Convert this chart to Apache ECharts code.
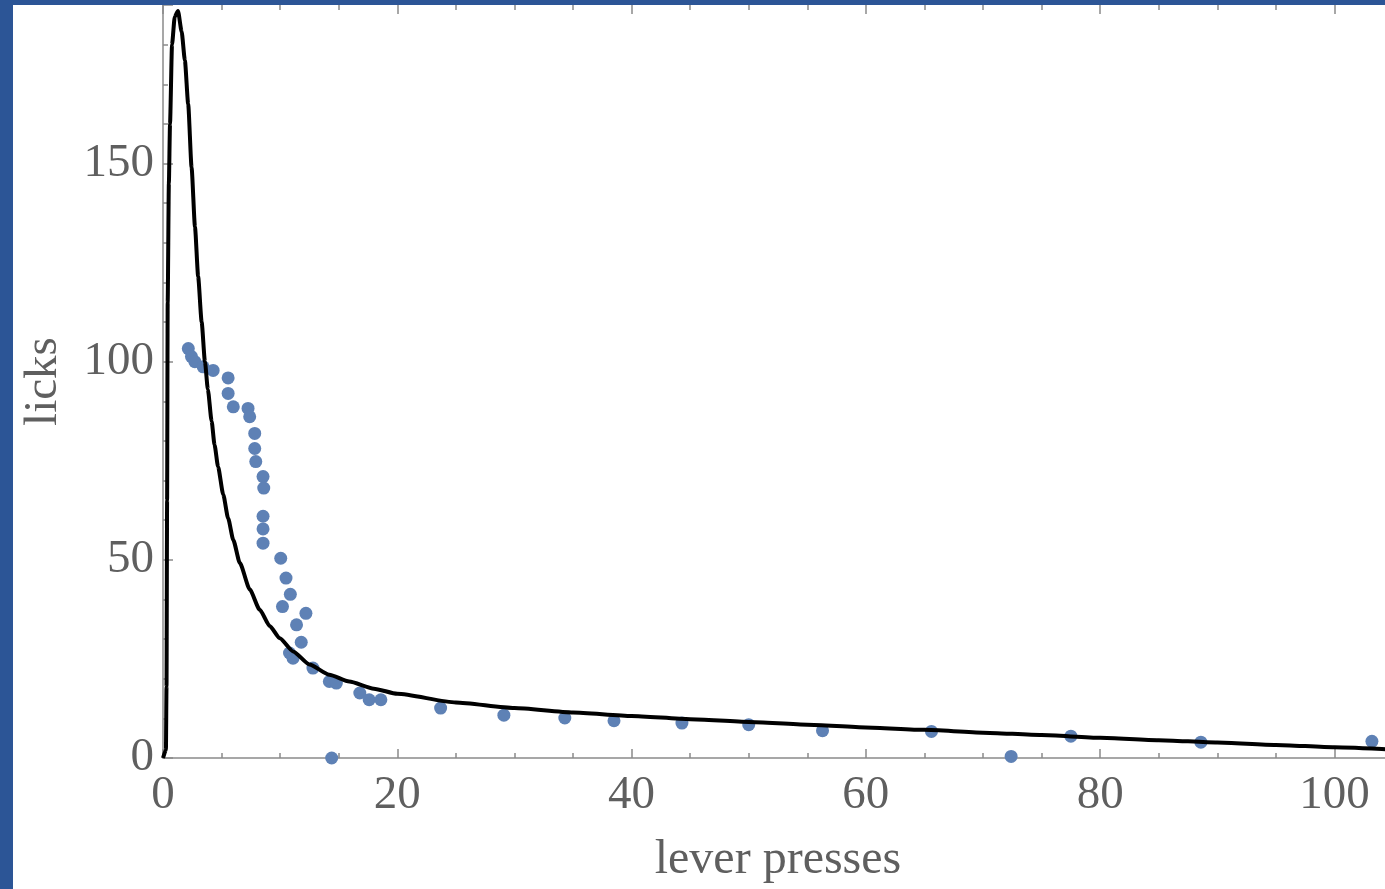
<!DOCTYPE html>
<html>
<head>
<meta charset="utf-8">
<script src="https://cdn.jsdelivr.net/npm/echarts@6/dist/echarts.min.js"></script>
<style>
  html, body { margin: 0; padding: 0; overflow: hidden; background: #ffffff; }
  #chart { position: absolute; left: 0; top: 0; width: 1396px; height: 889px; }
</style>
</head>
<body>
<div id="chart"></div>
<script>
// ---- data ----
const xTitle = 'lever presses';
const yTitle = 'licks';

// model curve (x = lever presses, y = licks)
const curveX = [0, 0.25, 0.3, 0.35, 0.4, 0.5, 0.6, 0.77, 1.0, 1.28, 1.59, 1.87, 2.15, 2.44, 2.73, 3.0, 3.3, 3.58, 3.83, 4.15, 4.4, 4.7, 5.14, 5.56, 6.0, 6.56, 7.41, 8.26, 9.11, 9.97, 11.1, 12.5, 14.2, 15.9, 18, 20, 25, 30, 35, 40, 45, 50, 55, 60, 65, 70, 75, 80, 85, 90, 95, 100, 105];
const curveY = [0, 2, 18, 65, 115, 145, 160, 180, 187, 188.5, 183.3, 176, 165, 149, 134, 121.5, 110, 100, 93, 85, 79, 73.5, 66.5, 60.5, 55, 49.2, 42.5, 37.4, 33.3, 30.2, 26.9, 23.6, 21, 19.3, 17.5, 16.2, 14.0, 12.6, 11.5, 10.6, 9.8, 9.1, 8.4, 7.7, 7.1, 6.4, 5.8, 5.1, 4.5, 3.9, 3.3, 2.7, 2.1];

// observed points
const pointsX = [-0.4, -0.4, 2.16, 2.43, 2.72, 3.43, 4.28, 5.56, 5.56, 6.0, 7.26, 7.4, 7.83, 7.83, 7.92, 8.54, 8.6, 8.54, 8.54, 8.54, 10.05, 10.5, 10.87, 10.2, 12.2, 11.4, 11.8, 10.8, 11.1, 12.8, 14.2, 14.8, 14.4, 16.8, 17.6, 18.6, 23.7, 29.1, 34.3, 38.5, 44.3, 50.0, 56.3, 65.6, 72.4, 77.5, 88.6, 103.2];
const pointsY = [0, 9, 103.3, 101.3, 100, 98.7, 97.8, 95.9, 92, 88.6, 88.2, 86.1, 81.9, 78.1, 74.8, 71, 68.1, 61, 57.8, 54.2, 50.4, 45.4, 41.3, 38.2, 36.5, 33.6, 29.2, 26.5, 25.2, 22.7, 19.3, 18.9, 0, 16.4, 14.7, 14.7, 12.6, 10.8, 10.1, 9.4, 8.8, 8.4, 6.9, 6.7, 0.4, 5.5, 4.0, 4.2];

const xMin = 0, xMax = 105, xMajor = 20, xMinor = 5;
const yMin = 0, yMax = 190, yMajor = 50, yMinor = 10;

// ---- chart ----
const curveData = curveX.map((x, i) => [x, curveY[i]]);
const pointData = pointsX.map((x, i) => [x, pointsY[i]]);

const FONT = 'Liberation Serif';
const TXT = '#5f5f5f';
const AX = '#8a8a8a';
const BLUE_BG = '#2c5596';

const chart = echarts.init(document.getElementById('chart'), null, { renderer: 'canvas' });

function xAxisDef(pos, interval, len, labels, withName) {
  return {
    type: 'value', position: pos, min: xMin, max: xMax, interval: interval,
    axisLine: { show: pos === 'bottom' && labels, onZero: false, lineStyle: { color: AX, width: 1.5 } },
    axisTick: { show: true, inside: true, length: len, lineStyle: { color: AX, width: 1.5 } },
    axisLabel: labels ? {
      show: true, margin: 14, fontFamily: FONT, fontSize: 47, color: TXT,
      formatter: v => (v % xMajor === 0 ? String(v) : '')
    } : { show: false },
    splitLine: { show: false },
    name: withName ? xTitle : '', nameLocation: 'middle', nameGap: 78,
    nameTextStyle: { fontFamily: FONT, fontSize: 48, color: TXT }
  };
}
function yAxisDef(interval, len, labels, withName) {
  return {
    type: 'value', position: 'left', min: yMin, max: yMax, interval: interval,
    axisLine: { show: labels, onZero: false, lineStyle: { color: AX, width: 1.5 } },
    axisTick: { show: true, inside: true, length: len, lineStyle: { color: AX, width: 1.5 } },
    axisLabel: labels ? {
      show: true, margin: 9, fontFamily: FONT, fontSize: 47, color: TXT,
      formatter: v => (v % yMajor === 0 ? String(v) : '')
    } : { show: false },
    splitLine: { show: false },
    name: withName ? yTitle : '', nameLocation: 'middle', nameGap: 96,
    nameTextStyle: { fontFamily: FONT, fontSize: 47, color: TXT }
  };
}

chart.setOption({
  animation: false,
  backgroundColor: '#ffffff',
  grid: { left: 163, top: 5, right: 0, bottom: 129, containLabel: false },
  xAxis: [
    xAxisDef('bottom', xMajor, 9, true, true),
    xAxisDef('bottom', xMinor, 5, false, false),
    xAxisDef('top', xMajor, 9, false, false),
    xAxisDef('top', xMinor, 5, false, false)
  ],
  yAxis: [
    yAxisDef(yMajor, 10, true, true),
    yAxisDef(yMinor, 5, false, false)
  ],
  series: [
    {
      type: 'scatter', xAxisIndex: 0, yAxisIndex: 0, data: pointData,
      symbol: 'circle', symbolSize: 13, clip: true,
      itemStyle: { color: '#5e81b5', opacity: 1 }, z: 2
    },
    {
      type: 'line', xAxisIndex: 0, yAxisIndex: 0, data: curveData,
      showSymbol: false, symbol: 'none', smooth: 0.2, smoothMonotone: 'x',
      lineStyle: { color: '#000000', width: 4 }, z: 3
    }
  ],
  graphic: [
    { type: 'rect', left: 0, top: 0, z: 100, shape: { width: 13, height: 889 }, style: { fill: BLUE_BG } },
    { type: 'rect', left: 0, top: 0, z: 100, shape: { width: 1396, height: 5 }, style: { fill: BLUE_BG } }
  ]
});
</script>
</body>
</html>
